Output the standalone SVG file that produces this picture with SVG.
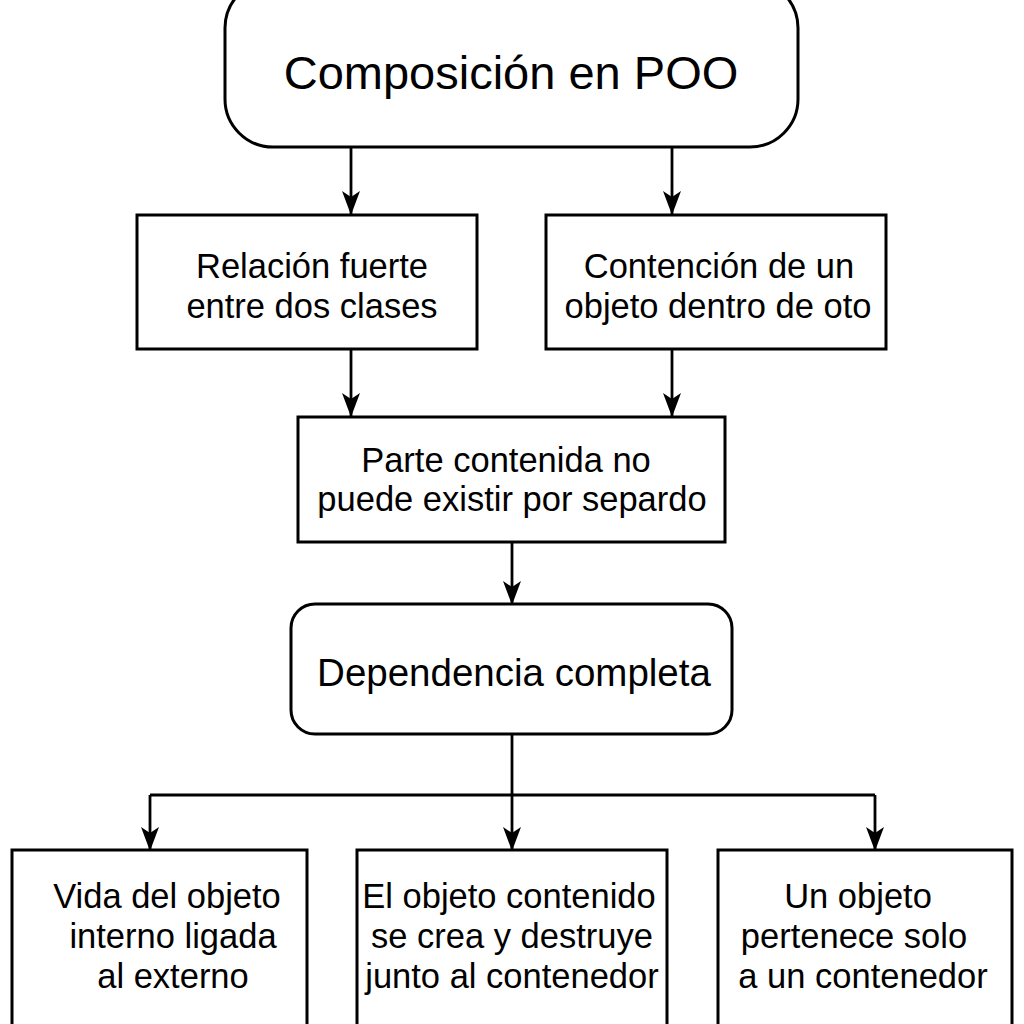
<svg xmlns="http://www.w3.org/2000/svg" width="1024" height="1024" viewBox="0 0 1024 1024">
<defs>
<marker id="arr" markerWidth="24" markerHeight="20" refX="23" refY="10" orient="auto" markerUnits="userSpaceOnUse">
<path d="M0,1 L24,10 L0,19 L6,10 Z" fill="#000"/>
</marker>
<style>
.box{fill:#fff;stroke:#000;stroke-width:3}
.t{font-family:"Liberation Sans",Arial,sans-serif;fill:#000;text-anchor:middle}
.s35{font-size:34.5px}
.s37{font-size:38.5px}
.s48{font-size:47px}
.c{fill:none;stroke:#000;stroke-width:2.8}
</style>
</defs>
<rect width="1024" height="1024" fill="#fff"/>
<g id="connectors">
<path class="c" d="M351,147 V214" marker-end="url(#arr)"/>
<path class="c" d="M672,147 V214" marker-end="url(#arr)"/>
<path class="c" d="M351,350 V416" marker-end="url(#arr)"/>
<path class="c" d="M672,350 V416" marker-end="url(#arr)"/>
<path class="c" d="M512,542 V604" marker-end="url(#arr)"/>
<path class="c" d="M512,735 V850"  marker-end="url(#arr)"/>
<path class="c" d="M150,795 H875"/>
<path class="c" d="M150,795 V850" marker-end="url(#arr)"/>
<path class="c" d="M875,795 V850" marker-end="url(#arr)"/>
</g>
<g id="n1">
<rect class="box" x="225" y="-20" width="573" height="167" rx="48"/>
<text class="t s48" x="511" y="89">Composición en POO</text>
</g>
<g id="n2">
<rect class="box" x="137" y="215" width="340" height="134"/>
<text class="t s35" x="312" y="278">Relación fuerte</text>
<text class="t s35" x="312" y="318">entre dos clases</text>
</g>
<g id="n3">
<rect class="box" x="546" y="215" width="340" height="134"/>
<text class="t s35" x="719" y="278">Contención de un</text>
<text class="t s35" x="718" y="318">objeto dentro de oto</text>
</g>
<g id="n4">
<rect class="box" x="298" y="417" width="427" height="125"/>
<text class="t s35" x="506" y="472">Parte contenida no</text>
<text class="t s35" x="512" y="511">puede existir por separdo</text>
</g>
<g id="n5">
<rect class="box" x="291" y="604" width="441" height="130" rx="24"/>
<text class="t s37" x="514" y="686">Dependencia completa</text>
</g>
<g id="n6">
<rect class="box" x="12" y="850" width="295" height="200"/>
<text class="t s35" x="167" y="908">Vida del objeto</text>
<text class="t s35" x="173" y="948">interno ligada</text>
<text class="t s35" x="173" y="988">al externo</text>
</g>
<g id="n7">
<rect class="box" x="357" y="850" width="310" height="200"/>
<text class="t s35" x="509" y="908">El objeto contenido</text>
<text class="t s35" x="512" y="948">se crea y destruye</text>
<text class="t s35" x="512" y="988">junto al contenedor</text>
</g>
<g id="n8">
<rect class="box" x="718" y="850" width="294" height="200"/>
<text class="t s35" x="858" y="908">Un objeto</text>
<text class="t s35" x="854" y="948">pertenece solo</text>
<text class="t s35" x="863" y="988">a un contenedor</text>
</g>
</svg>
